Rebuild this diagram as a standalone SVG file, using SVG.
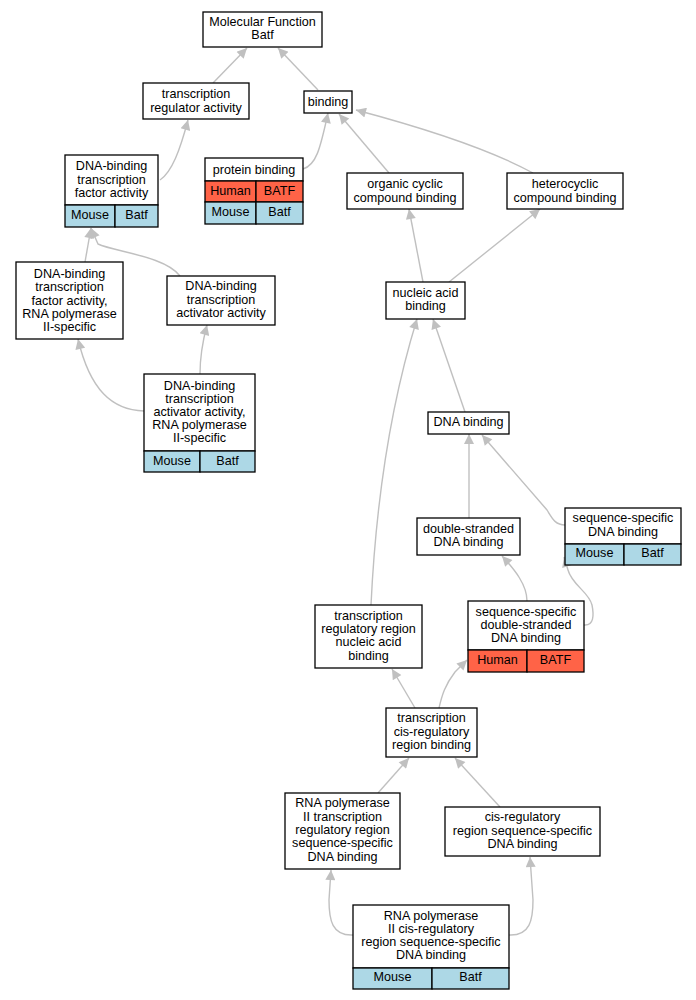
<svg xmlns="http://www.w3.org/2000/svg" width="696" height="1000" viewBox="0 0 696 1000">
<style>
.bg{fill:#ffffff}
.box{fill:#ffffff;stroke:#000000;stroke-width:1.3}
.hu{fill:#ff6347;stroke:#000000;stroke-width:1.3}
.mo{fill:#add8e6;stroke:#000000;stroke-width:1.3}
text{font-family:"Liberation Sans",Arial,sans-serif;font-size:12.6px;fill:#000000;text-anchor:middle}
.edge{fill:none;stroke:#c0c0c0;stroke-width:1.4}
</style>
<defs>
<marker id="arr" viewBox="0 0 10 10" refX="10" refY="5" markerUnits="userSpaceOnUse" markerWidth="13" markerHeight="10" orient="auto">
<polygon points="0,0 10,5 0,10" fill="#c0c0c0"/>
</marker>
</defs>
<rect class="bg" x="0" y="0" width="696" height="1000"/>
<g id="edges">
<path class="edge" marker-end="url(#arr)" d="M213,83 L247,48"/>
<path class="edge" marker-end="url(#arr)" d="M318,90 L278,48"/>
<path class="edge" marker-end="url(#arr)" d="M160,180 C172,172 180,150 188,120"/>
<path class="edge" marker-end="url(#arr)" d="M303,169 C316,165 320,150 328,113"/>
<path class="edge" marker-end="url(#arr)" d="M389,173 L339,114"/>
<path class="edge" marker-end="url(#arr)" d="M533,173 C500,155 450,135 356,110"/>
<path class="edge" marker-end="url(#arr)" d="M423,282 L409,209"/>
<path class="edge" marker-end="url(#arr)" d="M449,282 L540,209"/>
<path class="edge" marker-end="url(#arr)" d="M465,412 L433,319"/>
<path class="edge" marker-end="url(#arr)" d="M371,605 C376,500 392,400 417,319"/>
<path class="edge" marker-end="url(#arr)" d="M85,262 L91,228"/>
<path class="edge" marker-end="url(#arr)" d="M180,276 C165,256 115,252 98,244 L91,228"/>
<path class="edge" marker-end="url(#arr)" d="M144,411 C112,410 90,390 78,339"/>
<path class="edge" marker-end="url(#arr)" d="M200,374 C200,355 203,340 207,325"/>
<path class="edge" marker-end="url(#arr)" d="M469,518 L469,434"/>
<path class="edge" marker-end="url(#arr)" d="M565,525 C555,525 552,518 547,510 L482,435"/>
<path class="edge" marker-end="url(#arr)" d="M527,601 C527,585 515,570 502,556"/>
<path class="edge" marker-end="url(#arr)" d="M584,625 C594,626 594,615 592,605 C589,592 572,585 568,570 L564,557"/>
<path class="edge" marker-end="url(#arr)" d="M415,708 L392,669"/>
<path class="edge" marker-end="url(#arr)" d="M439,708 C442,695 445,685 455,672 L467,660"/>
<path class="edge" marker-end="url(#arr)" d="M378,793 L409,758"/>
<path class="edge" marker-end="url(#arr)" d="M500,807 L455,758"/>
<path class="edge" marker-end="url(#arr)" d="M353,935 C332,936 329,920 329,900 L331,870"/>
<path class="edge" marker-end="url(#arr)" d="M509,935 C530,936 533,920 533,900 L530,857"/>
</g>
<g id="n_mf">
<rect class="box" x="203" y="12" width="119" height="35"/>
<text x="262.5" y="25.8">Molecular Function</text>
<text x="262.5" y="39.1">Batf</text>
</g>
<g id="n_tra">
<rect class="box" x="143" y="83" width="106" height="36"/>
<text x="196" y="98.2">transcription</text>
<text x="196" y="111.6">regulator activity</text>
</g>
<g id="n_binding">
<rect class="box" x="304" y="91" width="48" height="22"/>
<text x="328" y="106.2">binding</text>
</g>
<g id="n_dbtfa">
<rect class="box" x="65" y="155" width="93" height="50"/>
<text x="111.5" y="170.3">DNA-binding</text>
<text x="111.5" y="183.6">transcription</text>
<text x="111.5" y="197">factor activity</text>
<rect class="mo" x="65" y="205" width="50" height="22"/>
<rect class="mo" x="115" y="205" width="43" height="22"/>
<text x="90" y="219">Mouse</text>
<text x="136.5" y="219">Batf</text>
</g>
<g id="n_protein">
<rect class="box" x="205" y="158" width="98" height="23"/>
<text x="254" y="174">protein binding</text>
<rect class="hu" x="205" y="181" width="51" height="21"/>
<rect class="hu" x="256" y="181" width="47" height="21"/>
<text x="230.5" y="195.3">Human</text>
<text x="279.5" y="195.3">BATF</text>
<rect class="mo" x="205" y="202" width="51" height="22"/>
<rect class="mo" x="256" y="202" width="47" height="22"/>
<text x="230.5" y="216.3">Mouse</text>
<text x="279.5" y="216.3">Batf</text>
</g>
<g id="n_organic">
<rect class="box" x="347" y="173" width="116" height="36"/>
<text x="405" y="188">organic cyclic</text>
<text x="405" y="201.5">compound binding</text>
</g>
<g id="n_hetero">
<rect class="box" x="507" y="173" width="116" height="36"/>
<text x="565" y="188">heterocyclic</text>
<text x="565" y="201.5">compound binding</text>
</g>
<g id="n_nucleic">
<rect class="box" x="386" y="282" width="79" height="37"/>
<text x="425.5" y="297">nucleic acid</text>
<text x="425.5" y="310.3">binding</text>
</g>
<g id="n_dbtfa2">
<rect class="box" x="16" y="262" width="107" height="77"/>
<text x="69.5" y="277.9">DNA-binding</text>
<text x="69.5" y="291.2">transcription</text>
<text x="69.5" y="304.5">factor activity,</text>
<text x="69.5" y="317.8">RNA polymerase</text>
<text x="69.5" y="331.1">II-specific</text>
</g>
<g id="n_dbtaa">
<rect class="box" x="167" y="276" width="108" height="49"/>
<text x="221" y="290.3">DNA-binding</text>
<text x="221" y="303.6">transcription</text>
<text x="221" y="316.9">activator activity</text>
</g>
<g id="n_dbtaa2">
<rect class="box" x="144" y="374" width="111" height="77"/>
<text x="199.5" y="389.6">DNA-binding</text>
<text x="199.5" y="402.6">transcription</text>
<text x="199.5" y="415.6">activator activity,</text>
<text x="199.5" y="428.9">RNA polymerase</text>
<text x="199.5" y="441.9">II-specific</text>
<rect class="mo" x="144" y="451" width="56" height="21"/>
<rect class="mo" x="200" y="451" width="55" height="21"/>
<text x="172" y="464.6">Mouse</text>
<text x="227.5" y="464.6">Batf</text>
</g>
<g id="n_dna">
<rect class="box" x="428" y="412" width="81" height="22"/>
<text x="468.5" y="426.3">DNA binding</text>
</g>
<g id="n_ds">
<rect class="box" x="417" y="518" width="103" height="37"/>
<text x="468.5" y="533">double-stranded</text>
<text x="468.5" y="546.3">DNA binding</text>
</g>
<g id="n_ssdna">
<rect class="box" x="565" y="508" width="116" height="36"/>
<text x="623" y="522.3">sequence-specific</text>
<text x="623" y="535.5">DNA binding</text>
<rect class="mo" x="565" y="544" width="59" height="21"/>
<rect class="mo" x="624" y="544" width="57" height="21"/>
<text x="594.5" y="557.3">Mouse</text>
<text x="652.5" y="557.3">Batf</text>
</g>
<g id="n_ssds">
<rect class="box" x="468" y="601" width="116" height="49"/>
<text x="526" y="615.6">sequence-specific</text>
<text x="526" y="628.9">double-stranded</text>
<text x="526" y="642.3">DNA binding</text>
<rect class="hu" x="468" y="650" width="59" height="22"/>
<rect class="hu" x="527" y="650" width="57" height="22"/>
<text x="497.5" y="664">Human</text>
<text x="555.5" y="664">BATF</text>
</g>
<g id="n_trrnab">
<rect class="box" x="315" y="605" width="107" height="63"/>
<text x="368.5" y="620">transcription</text>
<text x="368.5" y="633.2">regulatory region</text>
<text x="368.5" y="646.4">nucleic acid</text>
<text x="368.5" y="659.6">binding</text>
</g>
<g id="n_tcrrb">
<rect class="box" x="386" y="708" width="91" height="49"/>
<text x="431.5" y="722.3">transcription</text>
<text x="431.5" y="735.6">cis-regulatory</text>
<text x="431.5" y="748.9">region binding</text>
</g>
<g id="n_rnapol_trr">
<rect class="box" x="285" y="793" width="115" height="76"/>
<text x="342.5" y="807.3">RNA polymerase</text>
<text x="342.5" y="820.6">II transcription</text>
<text x="342.5" y="833.9">regulatory region</text>
<text x="342.5" y="847.2">sequence-specific</text>
<text x="342.5" y="860.5">DNA binding</text>
</g>
<g id="n_cisreg">
<rect class="box" x="445" y="807" width="155" height="49"/>
<text x="522.5" y="821.3">cis-regulatory</text>
<text x="522.5" y="834.6">region sequence-specific</text>
<text x="522.5" y="847.9">DNA binding</text>
</g>
<g id="n_rnapol_cis">
<rect class="box" x="353" y="905" width="156" height="63"/>
<text x="431" y="919.6">RNA polymerase</text>
<text x="431" y="932.9">II cis-regulatory</text>
<text x="431" y="946.2">region sequence-specific</text>
<text x="431" y="959.2">DNA binding</text>
<rect class="mo" x="353" y="968" width="79" height="21"/>
<rect class="mo" x="432" y="968" width="77" height="21"/>
<text x="392.5" y="981.3">Mouse</text>
<text x="470.5" y="981.3">Batf</text>
</g>
</svg>
